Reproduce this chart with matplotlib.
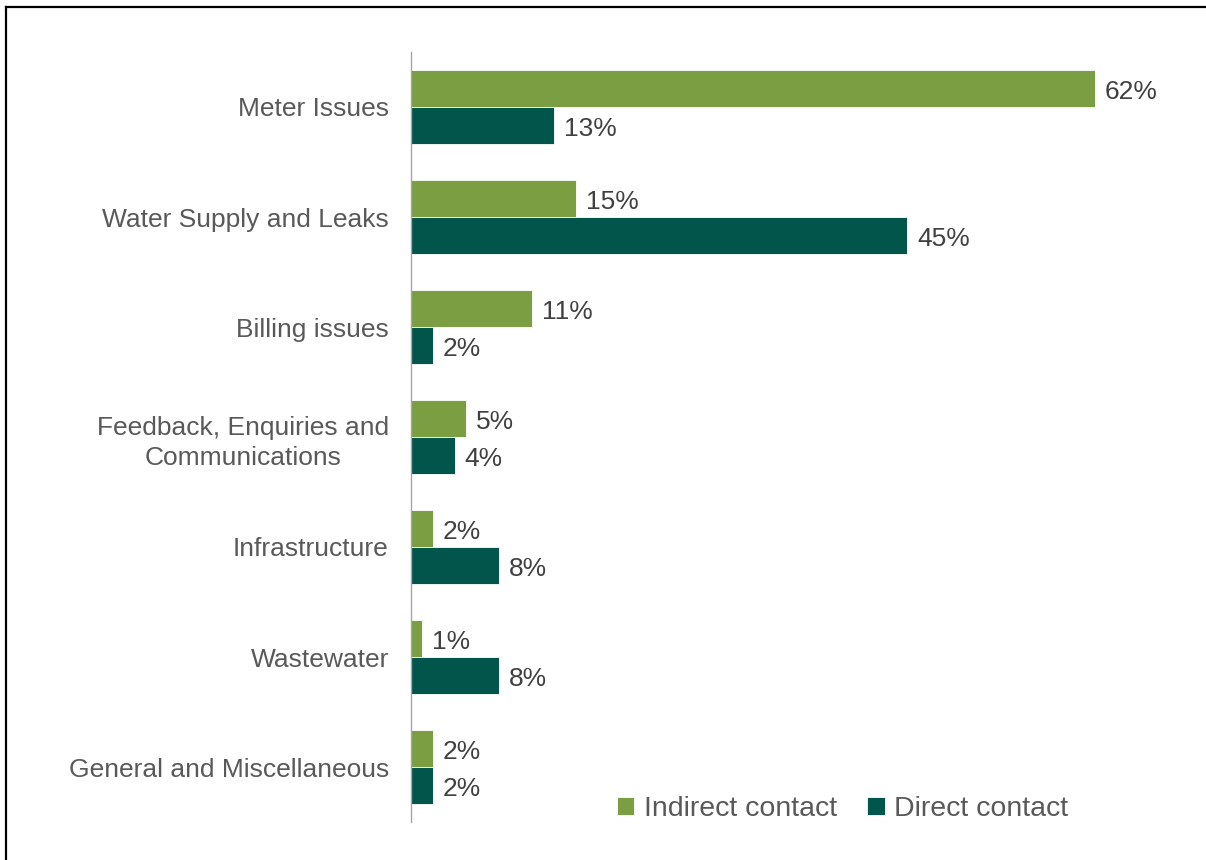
import matplotlib.pyplot as plt
from matplotlib.lines import Line2D
import numpy as np

plt.rcParams['font.family'] = ['Liberation Sans', 'DejaVu Sans']

categories = ["Meter Issues", "Water Supply and Leaks", "Billing issues",
              "Feedback, Enquiries and\nCommunications", "Infrastructure",
              "Wastewater", "General and Miscellaneous"]
indirect = [62, 15, 11, 5, 2, 1, 2]
direct = [13, 45, 2, 4, 8, 8, 2]

c_ind = '#7a9e41'
c_dir = '#02554a'

fig = plt.figure(figsize=(12.06, 8.6), dpi=100)
ax = fig.add_axes([411/1206, 1-822/860, (1150-411)/1206, (822-52)/860])

y = np.arange(len(categories))
h = 0.34
b1 = ax.barh(y - h/2, indirect, height=h, color=c_ind, edgecolor='white', linewidth=0.6, label='Indirect contact')
b2 = ax.barh(y + h/2, direct, height=h, color=c_dir, edgecolor='white', linewidth=0.6, label='Direct contact')

for bars, vals in ((b1, indirect), (b2, direct)):
    for bar, v in zip(bars, vals):
        ax.annotate(f"{v}%", (bar.get_width(), bar.get_y() + bar.get_height()/2),
                    xytext=(7, -2.5), textcoords='offset points', va='center', ha='left',
                    fontsize=19, color='#404040')

ax.set_xlim(0, 67)
ax.set_ylim(len(categories) - 0.5, -0.5)
ax.set_yticks(y)
ax.set_yticklabels(categories, fontsize=19, color='#595959')
for lab in ax.get_yticklabels():
    lab.set_multialignment('center')
    lab.set_linespacing(1.35)
ax.tick_params(axis='y', length=0, pad=16)
ax.set_xticks([])
for s in ('top', 'right', 'bottom'):
    ax.spines[s].set_visible(False)
ax.spines['left'].set_color('#a6a6a6')
ax.spines['left'].set_linewidth(1)

leg = ax.legend(loc='center', bbox_to_anchor=(843/1206, 1-809/860), bbox_transform=fig.transFigure,
                ncol=2, frameon=False, fontsize=20.5, handlelength=0.6, handleheight=0.6,
                handletextpad=0.35, columnspacing=1.05, borderpad=0)
for t in leg.get_texts():
    t.set_color('#595959')

# outer frame (top and left edges)
fig.add_artist(Line2D([6/1206, 1], [1-7/860, 1-7/860], color='black', lw=1.6, transform=fig.transFigure))
fig.add_artist(Line2D([6/1206, 6/1206], [0, 1-7/860], color='black', lw=1.6, transform=fig.transFigure))

fig.savefig('out.png', dpi=100)
